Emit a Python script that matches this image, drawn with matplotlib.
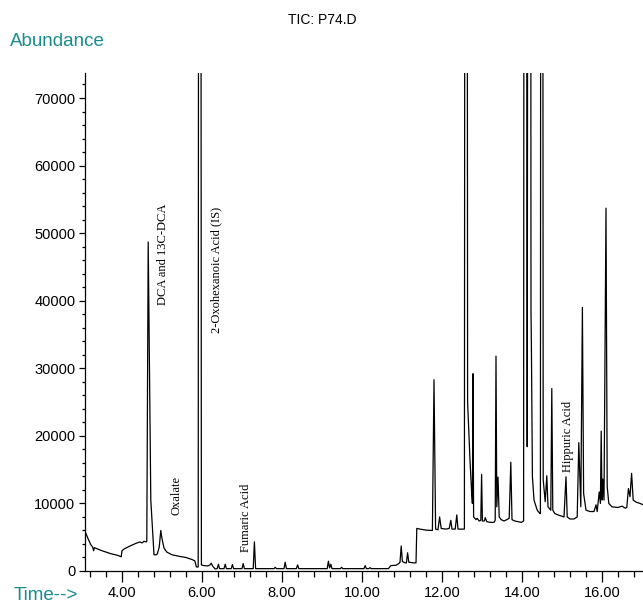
import matplotlib.pyplot as plt
from matplotlib.ticker import MultipleLocator, FormatStrFormatter

# Trace (time in min, abundance)
time_min = [
    3.08, 3.15, 3.22, 3.27, 3.29, 3.31, 3.5, 3.7, 3.9, 3.98,
    4.0, 4.05, 4.2, 4.35, 4.45, 4.5, 4.55, 4.6, 4.62, 4.655,
    4.72, 4.8, 4.85, 4.88, 4.93, 4.97, 5.0, 5.05, 5.12, 5.25,
    5.45, 5.6, 5.75, 5.82, 5.86, 5.905, 5.94, 5.985, 6.05, 6.15,
    6.2, 6.23, 6.27, 6.33, 6.38, 6.41, 6.44, 6.55, 6.58, 6.61,
    6.73, 6.76, 6.79, 7.0, 7.03, 7.06, 7.28, 7.31, 7.34, 7.8,
    7.83, 7.86, 8.05, 8.08, 8.11, 8.36, 8.39, 8.42, 9.13, 9.16,
    9.19, 9.22, 9.25, 9.46, 9.49, 9.52, 10.05, 10.08, 10.11, 10.17,
    10.2, 10.23, 10.66, 10.72, 10.85, 10.92, 10.95, 10.98, 11.01, 11.08,
    11.11, 11.14, 11.17, 11.3, 11.35, 11.37, 11.45, 11.6, 11.76, 11.8,
    11.84, 11.9, 11.94, 11.98, 12.1, 12.18, 12.22, 12.25, 12.33, 12.37,
    12.4, 12.53, 12.56, 12.6, 12.64, 12.7, 12.74, 12.76, 12.775, 12.79,
    12.85, 12.88, 12.93, 12.97, 12.99, 13.01, 13.06, 13.08, 13.12, 13.2,
    13.3, 13.33, 13.35, 13.37, 13.4, 13.43, 13.48, 13.55, 13.62, 13.68,
    13.72, 13.75, 13.82, 13.9, 13.98, 14.04, 14.075, 14.13, 14.19, 14.225,
    14.235, 14.26, 14.3, 14.38, 14.45, 14.46, 14.49, 14.53, 14.58, 14.62,
    14.65, 14.72, 14.745, 14.77, 14.82, 14.9, 15.05, 15.1, 15.13, 15.2,
    15.3, 15.38, 15.42, 15.47, 15.51, 15.54, 15.6, 15.7, 15.8, 15.85,
    15.88, 15.93, 15.96, 15.98, 16.0, 16.02, 16.05, 16.1, 16.13, 16.17,
    16.25, 16.4, 16.5, 16.58, 16.62, 16.66, 16.7, 16.74, 16.78, 16.85,
    16.95, 17.03,
]
abundance = [
    5800, 4800, 3900, 3500, 3000, 3450, 3000, 2600, 2300, 2100,
    3000, 3250, 3700, 4100, 4300, 4150, 4400, 4300, 4400, 48700,
    10500, 2400, 2400, 2500, 3500, 6000, 4800, 3400, 2800, 2400,
    2150, 2000, 1700, 1500, 600, 600, 400000, 900, 800, 750,
    900, 1150, 700, 300, 350, 1000, 350, 350, 1000, 350,
    350, 950, 350, 350, 1100, 350, 350, 4300, 350, 350,
    550, 350, 350, 1300, 350, 350, 900, 350, 350, 1450,
    450, 1000, 350, 350, 550, 350, 350, 800, 350, 350,
    500, 350, 350, 800, 850, 1100, 1300, 3700, 1400, 1200,
    1200, 2700, 1300, 1200, 1200, 6300, 6200, 6050, 6000, 28300,
    6200, 6100, 8000, 6300, 6200, 6300, 7500, 6200, 6200, 8300,
    6200, 6200, 6200, 400000, 25000, 16400, 11700, 10000, 29200, 8000,
    7600, 7800, 7400, 7500, 14300, 7400, 7400, 7900, 7300, 7200,
    7200, 7500, 31800, 9500, 13900, 8000, 7600, 7400, 7600, 7800,
    16100, 7600, 7400, 7300, 7200, 7400, 400000, 18400, 400000, 38400,
    33400, 14000, 10500, 9000, 8500, 8500, 400000, 13500, 10250, 14100,
    9500, 9000, 27000, 9000, 8500, 8300, 8000, 13950, 8000, 7700,
    7700, 8000, 19000, 9500, 39000, 11500, 9000, 8800, 8800, 9800,
    8800, 11700, 10000, 20700, 10500, 13600, 10500, 53700, 12500, 10000,
    9500, 9400, 9600, 9300, 9400, 12200, 11000, 14450, 10500, 10200,
    10000, 9800,
]

# Peak labels (text, time, abundance at bottom of label)
label_text = ["DCA and 13C-DCA", "Oxalate", "2-Oxohexanoic Acid (IS)",
              "Fumaric Acid", "Hippuric Acid"]
label_time = [5.03, 5.35, 6.35, 7.1, 15.15]
label_abund = [39400, 8300, 35200, 2800, 14650]

sans = ['Liberation Sans Narrow', 'Liberation Sans', 'DejaVu Sans']
teal = '#1a8c8c'

fig = plt.figure(figsize=(6.43, 6.04), dpi=100)
ax = fig.add_axes([85 / 643, 33 / 604, 558 / 643, 498 / 604])

ax.plot(time_min, abundance, color='black', lw=0.9)
ax.set_xlim(3.075, 17.025)
ax.set_ylim(0, 73700)

for s in ['top', 'right']:
    ax.spines[s].set_visible(False)
for s in ['left', 'bottom']:
    ax.spines[s].set_linewidth(0.9)

ax.xaxis.set_major_locator(MultipleLocator(2))
ax.xaxis.set_minor_locator(MultipleLocator(0.4))
ax.xaxis.set_major_formatter(FormatStrFormatter('%.2f'))
ax.yaxis.set_major_locator(MultipleLocator(10000))
ax.yaxis.set_minor_locator(MultipleLocator(2000))
ax.tick_params(axis='x', which='major', length=8, width=0.9, pad=3)
ax.tick_params(axis='x', which='minor', length=4, width=0.9)
ax.tick_params(axis='y', which='major', length=4, width=0.9, pad=3)
ax.tick_params(axis='y', which='minor', length=2, width=0.9)
for lab in ax.get_xticklabels() + ax.get_yticklabels():
    lab.set_family(sans)
    lab.set_fontsize(10.5)

for txt, t, a in zip(label_text, label_time, label_abund):
    ax.text(t, a, txt, rotation=90, ha='center', va='bottom',
            family=['Liberation Serif', 'DejaVu Serif'], fontsize=9)

fig.text(322 / 643, 1 - 20 / 604, 'TIC: P74.D', ha='center', va='center',
         family=sans, fontsize=10)
fig.text(10 / 643, 1 - 42 / 604, 'Abundance', ha='left', va='center',
         family=sans, fontsize=13.5, color=teal)
fig.text(14 / 643, 1 - 596 / 604, 'Time-->', ha='left', va='center',
         family=sans, fontsize=13.5, color=teal)

fig.savefig('out.png', dpi=100)
